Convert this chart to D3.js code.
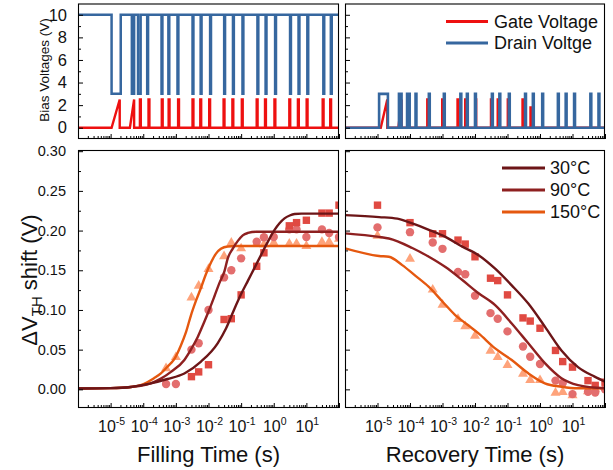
<!DOCTYPE html>
<html><head><meta charset="utf-8">
<script src="https://cdn.jsdelivr.net/npm/d3@7"></script>
<style>
body{margin:0;background:#fff}
svg{display:block}
text{font-family:"Liberation Sans",Arial,Helvetica,sans-serif;fill:#111}
</style>
</head><body>
<svg id="c" width="613" height="470"></svg>
<script>
// ---------------- DATA ----------------
// Top panels: bias pulse sequences (times in seconds)
const fillDrainLowIntervals = [[1.07e-5,2.04e-5],[4.47e-5,5.25e-5],[6.92e-5,8.32e-5]];
const fillDrainSpikes = [1.32e-4,3.63e-4,5.89e-4,1.12e-3,3.24e-3,5.75e-3,1.12e-2,3.02e-2,5.62e-2,0.110,0.316,0.562,1.10,3.16,5.75,10.7,33.1,56.2];
const fillGateRamps = [[1.07e-5,1.9e-5],[3.9e-5,5.25e-5]];
const fillGateSpikes = [7.9e-5,1.45e-4,3.7e-4,6.0e-4,1.17e-3,3.24e-3,5.6e-3,1.05e-2,2.9e-2,5.4e-2,0.105,0.30,0.54,1.05,3.0,5.5,10.2,31.6,53.7];

const recDrainHighIntervals = [[1.12e-5,2.09e-5],[4.57e-5,5.5e-5],[8.13e-5,9.77e-5]];
const recDrainSpikes = [1.48e-4,3.8e-4,1.10e-3,3.55e-3,5.62e-3,1.0e-2,3.31e-2,5.62e-2,0.110,0.347,0.603,1.17,3.55,6.17,11.2,35.5,63.1];
const recGateRamps = [[1.26e-5,2.0e-5],[4.4e-5,5.5e-5]];
const recGateSpikes = [3.4e-4,9.8e-4,2.9e-3,5.0e-3,1.02e-2,3.1e-2,5.0e-2,0.102,0.29,0.51];
const recGateSpikeLevels = [2.5,2.5,2.5,2.5,2.5,2.5,2.5,2.5,2.5,1.8];

const drainHigh = 10, drainLow = 3, gateHigh = 2.5, gateLow = 0, recDrainHigh = 3, recDrainLow = 0;

const biasTicks = [0,2,4,6,8,10];
const shiftTicks = [0,0.05,0.10,0.15,0.20,0.25,0.30];
const timeLabelExps = [-5,-4,-3,-2,-1,0,1];

// Bottom-left: filling data
const fillTimesSq = [3e-3,5e-3,1e-2,3e-2,5e-2,1e-1,3e-1,5e-1,3,5,10,30,50,100];
const fill30 = [0.016,0.022,0.031,0.088,0.089,0.119,0.155,0.172,0.206,0.210,0.213,0.222,0.222,0.232];
const fillTimes = [5e-4,1e-3,3e-3,5e-3,1e-2,3e-2,5e-2,1e-1,3e-1,5e-1,1,3,5,10,30,50,100];
const fill90 = [0.0067,0.0067,0.050,0.058,0.100,0.141,0.150,0.165,0.186,0.1915,0.192,0.2015,0.2015,0.192,0.2015,0.197,0.192];
const fill150 = [0.027,0.041,0.116,0.131,0.152,0.168,0.185,0.178,0.184,0.183,0.185,0.184,0.184,0.181,0.186,0.186,0.190];

// Fit curves for filling (log10 time, value)
const fitFill30LogT = [-6,-5,-4.38,-4.08,-3.77,-3.26,-2.74,-2.23,-1.72,-1.46,-1.21,-1.0,-0.79,-0.59,-0.38,-0.18,0.02,0.17,0.33,0.49,0.64,0.85,2];
const fitFill30 = [0.001,0.0015,0.003,0.005,0.0075,0.013,0.020,0.035,0.058,0.077,0.101,0.12,0.137,0.153,0.170,0.186,0.2006,0.209,0.2154,0.219,0.2208,0.2213,0.2213];
const fitFill90LogT = [-6,-5,-4.38,-4.08,-3.77,-3.46,-3.15,-2.74,-2.54,-2.33,-2.15,-1.98,-1.82,-1.67,-1.51,-1.41,-1.26,-1.1,-0.95,-0.79,-0.54,2];
const fitFill90 = [0.001,0.0015,0.003,0.0045,0.0075,0.0135,0.022,0.037,0.050,0.066,0.083,0.0999,0.117,0.1335,0.149,0.165,0.177,0.187,0.194,0.197,0.1985,0.1985];
const fitFill150LogT = [-6,-5,-4.38,-4.08,-3.67,-3.46,-3.26,-3.05,-2.85,-2.69,-2.54,-2.38,-2.23,-2.08,-1.92,-1.77,-1.62,-1.41,-1.15,2];
const fitFill150 = [0.001,0.0015,0.003,0.0054,0.014,0.02,0.0285,0.038,0.055,0.072,0.093,0.112,0.128,0.145,0.160,0.171,0.177,0.180,0.1805,0.1805];

// Bottom-right: recovery data
const recTimes = [1e-5,1e-4,5e-4,1e-3,3e-3,5e-3,1e-2,3e-2,5e-2,1e-1,3e-1,5e-1,1,3,5,10,30,50,100];
const rec30 = [0.232,0.210,0.196,0.196,0.188,0.183,0.167,0.140,0.137,0.119,0.090,0.086,0.077,0.049,0.035,0.028,0.011,0.005,0.009];
const rec90 = [0.204,0.198,0.185,0.177,0.148,0.145,0.118,0.096,0.089,0.073,0.054,0.041,0.032,0.011,0.008,-0.006,-0.003,-0.004,0.0];
const rec150 = [0.194,0.165,0.126,0.107,0.089,0.080,0.068,0.049,0.041,0.031,0.020,0.012,0.012,-0.004,-0.003,-0.007,-0.002,0.001,0.004];

const fitRec30LogT = [-6,-4.95,-4.39,-3.93,-3.42,-2.91,-2.40,-1.89,-1.38,-0.87,-0.36,0.15,0.66,1.17,1.68,2];
const fitRec30 = [0.2195,0.217,0.215,0.209,0.201,0.192,0.180,0.169,0.152,0.131,0.108,0.079,0.049,0.028,0.016,0.0096];
const fitRec90LogT = [-6,-4.95,-4.65,-3.93,-3.42,-2.91,-2.40,-1.89,-1.38,-0.87,-0.36,0.15,0.66,1.17,2];
const fitRec90 = [0.1965,0.192,0.190,0.178,0.167,0.154,0.138,0.121,0.106,0.083,0.058,0.033,0.014,0.0054,0.0013];
const fitRec150LogT = [-6,-4.95,-4.65,-4.24,-3.83,-3.42,-3.01,-2.61,-2.25,-1.89,-1.38,-0.87,-0.36,0.15,0.66,1.17,2];
const fitRec150 = [0.1776,0.168,0.167,0.1565,0.143,0.129,0.111,0.0936,0.082,0.0705,0.0516,0.0369,0.0202,0.0076,0.0033,0.0013,0.0013];

const biasLegend = ["Gate Voltage","Drain Voltge"];
const tempLegend = ["30°C","90°C","150°C"];

// ---------------- STYLE ----------------
const C = {gate:"#ee1010", drain:"#36679f", l30:"#6c1517", l90:"#8e2020", l150:"#e5580f",
           sq:"#e04a42", ci:"#e36e6e", tr:"#fea37b"};
const FONT = '"Liberation Sans",Arial,Helvetica,sans-serif';
const spikeW = 0.9;

// ---------------- LAYOUT ----------------
const svg = d3.select("#c");
svg.append("rect").attr("width",613).attr("height",470).attr("fill","#fff");
const L = {x0:78, x1:339}, R = {x0:345, x1:605};
const T = {y0:3.5, y1:139}, B = {y0:150, y1:408};

const xL = d3.scaleLog().domain([1e-6,1e2]).range([L.x0,L.x1]);
const xR = d3.scaleLog().domain([1e-6,1e2]).range([R.x0,R.x1]);
const yT = d3.scaleLinear().domain([-1,11]).range([T.y1,T.y0]);
const yB = d3.scaleLinear().domain([-0.0235,0.3015]).range([B.y1,B.y0]);

const majorX = d3.range(-6,3).map(e=>Math.pow(10,e));
const minorX = [];
for (let e=-6;e<2;e++) for (let m=2;m<10;m++) minorX.push(m*Math.pow(10,e));

const defs = svg.append("defs");
function clip(id, P, Q){
  defs.append("clipPath").attr("id",id).append("rect")
    .attr("x",P.x0).attr("y",Q.y0).attr("width",P.x1-P.x0).attr("height",Q.y1-Q.y0);
}
clip("cTL",L,T); clip("cTR",R,T); clip("cBL",L,B); clip("cBR",R,B);

function xAxis(x, yPos){
  const g = svg.append("g").attr("transform",`translate(0,${yPos})`).style("color","#000");
  g.append("g").call(d3.axisBottom(x).tickValues(minorX).tickSize(-3).tickFormat(""))
    .call(s=>s.select(".domain").remove());
  g.append("g").call(d3.axisBottom(x).tickValues(majorX).tickSize(-5).tickFormat(""))
    .call(s=>s.select(".domain").remove());
}
function yAxis(y, xPos, major, minor, fmt){
  const g = svg.append("g").attr("transform",`translate(${xPos},0)`).style("color","#000");
  g.append("g").call(d3.axisLeft(y).tickValues(minor).tickSize(-3).tickFormat(""))
    .call(s=>s.select(".domain").remove());
  const gm = g.append("g").call(d3.axisLeft(y).tickValues(major).tickSize(-5).tickPadding(fmt?11:0).tickFormat(fmt||""))
    .call(s=>s.select(".domain").remove());
  return gm;
}
function frame(P,Q){
  svg.append("rect").attr("x",P.x0+0.5).attr("y",Q.y0+0.5).attr("width",P.x1-P.x0-1).attr("height",Q.y1-Q.y0-1)
    .attr("fill","none").attr("stroke","#000").attr("stroke-width",1.1);
}

function drainPath(x, intervals, spikes, hi, lo){
  const ev = intervals.map(([a,b])=>[x(a),x(b)]).concat(spikes.map(t=>[x(t),x(t)+spikeW]));
  ev.sort((a,b)=>a[0]-b[0]);
  const p = d3.path();
  p.moveTo(x(1e-6), yT(hi));
  ev.forEach(([a,b])=>{p.lineTo(a,yT(hi)); p.lineTo(a,yT(lo)); p.lineTo(b,yT(lo)); p.lineTo(b,yT(hi));});
  p.lineTo(x(1e2), yT(hi));
  return p.toString();
}
function gatePath(x, ramps, spikes, levels){
  const ev = ramps.map(([a,b])=>({type:"r",a:x(a),b:x(b),h:gateHigh}))
    .concat(spikes.map((t,i)=>({type:"s",a:x(t),b:x(t)+spikeW,h:levels?levels[i]:gateHigh})));
  ev.sort((a,b)=>a.a-b.a);
  const p = d3.path();
  p.moveTo(x(1e-6), yT(gateLow));
  ev.forEach(e=>{
    if(e.type==="r"){p.lineTo(e.a,yT(gateLow)); p.lineTo(e.b,yT(e.h)); p.lineTo(e.b,yT(gateLow));}
    else {p.lineTo(e.a,yT(gateLow)); p.lineTo(e.a,yT(e.h)); p.lineTo(e.b,yT(e.h)); p.lineTo(e.b,yT(gateLow));}
  });
  p.lineTo(x(1e2), yT(gateLow));
  return p.toString();
}

const gTL = svg.append("g").attr("clip-path","url(#cTL)");
gTL.append("path").attr("d",drainPath(xL,fillDrainLowIntervals,fillDrainSpikes,drainHigh,drainLow))
  .attr("fill","none").attr("stroke",C.drain).attr("stroke-width",2.5);
gTL.append("path").attr("d",gatePath(xL,fillGateRamps,fillGateSpikes))
  .attr("fill","none").attr("stroke",C.gate).attr("stroke-width",2.4);

const gTR = svg.append("g").attr("clip-path","url(#cTR)");
gTR.append("path").attr("d",gatePath(xR,recGateRamps,recGateSpikes,recGateSpikeLevels))
  .attr("fill","none").attr("stroke",C.gate).attr("stroke-width",2.4);
gTR.append("path").attr("d",drainPath(xR,recDrainHighIntervals,recDrainSpikes,recDrainLow,recDrainHigh))
  .attr("fill","none").attr("stroke",C.drain).attr("stroke-width",2.6);

// ---------- Bottom panels ----------
const sqS = 7.4, ciR = 4.2;
const triPath = "M0,-5.4L5,3.3L-5,3.3Z";
function markers(g, x, times, vals, kind, color){
  const data = times.map((t,i)=>[t,vals[i]]);
  if(kind==="sq"){
    g.selectAll(null).data(data).enter().append("rect")
      .attr("x",d=>x(d[0])-sqS/2).attr("y",d=>yB(d[1])-sqS/2).attr("width",sqS).attr("height",sqS).attr("fill",color);
  } else if(kind==="ci"){
    g.selectAll(null).data(data).enter().append("circle")
      .attr("cx",d=>x(d[0])).attr("cy",d=>yB(d[1])).attr("r",ciR).attr("fill",color);
  } else {
    g.selectAll(null).data(data).enter().append("path").attr("d",triPath)
      .attr("transform",d=>`translate(${x(d[0])},${yB(d[1])})`).attr("fill",color);
  }
}
function fit(g, x, logT, vals, color){
  const data = logT.map((l,i)=>[Math.pow(10,l),vals[i]]);
  g.append("path").datum(data)
    .attr("d",d3.line().x(d=>x(d[0])).y(d=>yB(d[1])).curve(d3.curveMonotoneX))
    .attr("fill","none").attr("stroke",color).attr("stroke-width",2.4);
}
const gBL = svg.append("g").attr("clip-path","url(#cBL)");
markers(gBL,xL,fillTimes,fill150,"tr",C.tr);
markers(gBL,xL,fillTimes,fill90,"ci",C.ci);
markers(gBL,xL,fillTimesSq,fill30,"sq",C.sq);
fit(gBL,xL,fitFill150LogT,fitFill150,C.l150);
fit(gBL,xL,fitFill90LogT,fitFill90,C.l90);
fit(gBL,xL,fitFill30LogT,fitFill30,C.l30);

const gBR = svg.append("g").attr("clip-path","url(#cBR)");
markers(gBR,xR,recTimes,rec150,"tr",C.tr);
markers(gBR,xR,recTimes,rec90,"ci",C.ci);
markers(gBR,xR,recTimes,rec30,"sq",C.sq);
fit(gBR,xR,fitRec150LogT,fitRec150,C.l150);
fit(gBR,xR,fitRec90LogT,fitRec90,C.l90);
fit(gBR,xR,fitRec30LogT,fitRec30,C.l30);

// ---------- Axes ----------
xAxis(xL,T.y1); xAxis(xR,T.y1); xAxis(xL,B.y1); xAxis(xR,B.y1);
const biasMinor = [1,3,5,7,9];
const shiftMinor = [0.025,0.075,0.125,0.175,0.225,0.275];
const ayTL = yAxis(yT,L.x0,biasTicks,biasMinor,d3.format("d"));
ayTL.selectAll("text").style("font-size","16.5px").style("font-family",FONT).attr("fill","#111");
yAxis(yT,R.x0,biasTicks,biasMinor,null);
const ayBL = yAxis(yB,L.x0,shiftTicks,shiftMinor,d3.format(".2f"));
ayBL.selectAll("text").style("font-size","14.5px").style("font-family",FONT).attr("fill","#111").attr("dx","-1");
yAxis(yB,R.x0,shiftTicks,shiftMinor,null);

frame(L,T); frame(R,T); frame(L,B); frame(R,B);

// x tick labels
[xL,xR].forEach(x=>{
  timeLabelExps.forEach(e=>{
    const t = svg.append("text").attr("x",x(Math.pow(10,e))+1).attr("y",432)
      .attr("text-anchor","middle").style("font-size","16px");
    t.append("tspan").text("10");
    t.append("tspan").attr("dy",-7).style("font-size","10.5px").text(String(e));
  });
});

// axis titles
svg.append("text").attr("x",(L.x0+L.x1)/2).attr("y",462).attr("text-anchor","middle")
  .style("font-size","22px").text("Filling Time (s)");
svg.append("text").attr("x",(R.x0+R.x1)/2).attr("y",462).attr("text-anchor","middle")
  .style("font-size","22px").text("Recovery Time (s)");
svg.append("text").attr("transform","translate(49,70) rotate(-90)").attr("text-anchor","middle")
  .style("font-size","13.5px").text("Bias Voltages (V)");
const yt = svg.append("text").attr("transform","translate(37,280) rotate(-90)").attr("text-anchor","middle")
  .style("font-size","22px");
yt.append("tspan").text("ΔV");
yt.append("tspan").attr("dy",5).style("font-size","15px").text("TH");
yt.append("tspan").attr("dy",-5).text(" shift (V)");

// legends
const lg1 = svg.append("g");
[C.gate,C.drain].forEach((c,i)=>{
  lg1.append("line").attr("x1",446).attr("x2",488).attr("y1",21.5+i*21.5).attr("y2",21.5+i*21.5)
    .attr("stroke",c).attr("stroke-width",2.8);
  lg1.append("text").attr("x",494).attr("y",27.5+i*21.5).style("font-size","18px").text(biasLegend[i]);
});
const lg2 = svg.append("g");
[C.l30,C.l90,C.l150].forEach((c,i)=>{
  lg2.append("line").attr("x1",502).attr("x2",545).attr("y1",168+i*22).attr("y2",168+i*22)
    .attr("stroke",c).attr("stroke-width",2.8);
  lg2.append("text").attr("x",550).attr("y",174+i*22).style("font-size","18px").text(tempLegend[i]);
});
</script>
</body></html>
